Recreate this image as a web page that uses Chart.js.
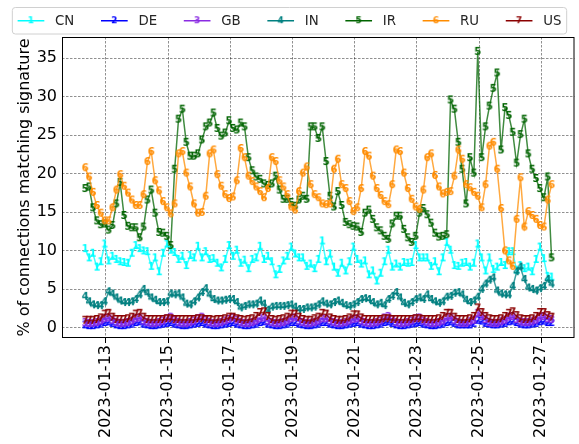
<!DOCTYPE html>
<html>
<head>
<meta charset="utf-8">
<script src="https://cdn.jsdelivr.net/npm/chart.js@4/dist/chart.umd.min.js"></script>
<style>
  html, body { margin: 0; padding: 0; background: #fff; }
  #wrap { width: 579px; height: 444px; }
</style>
</head>
<body>
<div id="wrap"><canvas id="chart" width="579" height="444"></canvas></div>
<script>
// samples every 3 hours, starting 2023-01-12 08:00 (x = day of January)
const startDay = 12.333;
const stepDay = 0.125;
const tickDays = [13, 15, 17, 19, 21, 23, 25, 27];
const yTicks = [0, 5, 10, 15, 20, 25, 30, 35];

const countries = ['CN', 'DE', 'GB', 'IN', 'IR', 'RU', 'US'];
const colors = ['#00ffff', '#0000ff', '#8a2be2', '#008080', '#006400', '#ff8c00', '#8b0000'];

const cn = [
  10.2, 9.0, 9.6, 7.8, 8.5, 10.8, 8.6, 9.2,
  8.8, 8.5, 8.4, 8.3, 9.6, 10.6, 10.2, 9.9,
  9.8, 7.9, 9.0, 7.2, 9.6, 10.8, 10.0, 9.7,
  8.8, 9.2, 8.0, 9.3, 9.0, 10.5, 9.0, 9.8,
  8.8, 8.9, 8.3, 7.7, 8.8, 10.6, 9.2, 10.0,
  8.3, 8.7, 7.6, 8.8, 9.0, 10.5, 8.8, 9.2,
  8.5, 6.8, 7.5, 8.6, 9.2, 10.4, 9.5, 9.0,
  9.0, 7.9, 8.2, 7.6, 8.8, 11.2, 8.5, 9.5,
  7.8, 7.0, 8.3, 7.3, 8.5, 10.4, 8.8, 8.2,
  8.6, 6.8, 7.3, 6.0, 7.0, 8.5, 10.0, 7.8,
  8.2, 7.8, 8.4, 8.3, 8.4, 10.6, 9.0, 9.0,
  9.0, 7.9, 8.5, 7.2, 9.0, 11.0, 10.0, 8.0,
  7.9, 8.3, 8.4, 7.8, 8.3, 10.8, 9.0, 7.3,
  9.0, 7.5, 7.8, 8.4, 8.0, 9.8, 9.8, 7.4,
  8.0, 7.6, 7.8, 7.2, 8.8, 10.4, 8.9, 6.6,
  6.5
];
const de = [
  0.3, 0.2, 0.2, 0.3, 0.4, 0.6, 0.7, 0.5,
  0.3, 0.2, 0.2, 0.3, 0.4, 0.6, 0.7, 0.4,
  0.3, 0.2, 0.2, 0.3, 0.4, 0.5, 0.6, 0.4,
  0.3, 0.2, 0.2, 0.3, 0.4, 0.5, 0.6, 0.4,
  0.3, 0.2, 0.2, 0.3, 0.4, 0.5, 0.6, 0.4,
  0.3, 0.2, 0.2, 0.3, 0.4, 0.6, 0.7, 0.4,
  0.3, 0.2, 0.2, 0.3, 0.4, 0.6, 0.6, 0.4,
  0.3, 0.2, 0.2, 0.3, 0.4, 0.6, 0.6, 0.4,
  0.3, 0.2, 0.2, 0.3, 0.4, 0.5, 0.6, 0.4,
  0.3, 0.2, 0.2, 0.3, 0.4, 0.6, 0.7, 0.5,
  0.3, 0.2, 0.2, 0.3, 0.4, 0.5, 0.6, 0.4,
  0.3, 0.2, 0.2, 0.3, 0.4, 0.6, 0.7, 0.5,
  0.3, 0.3, 0.3, 0.3, 0.5, 0.9, 0.8, 0.5,
  0.4, 0.3, 0.3, 0.4, 0.5, 0.7, 0.8, 0.6,
  0.4, 0.3, 0.3, 0.4, 0.5, 0.7, 0.8, 0.6,
  0.6
];
const gb = [
  0.6, 0.5, 0.5, 0.6, 0.8, 1.1, 1.2, 0.9,
  0.6, 0.5, 0.5, 0.6, 0.8, 1.1, 1.2, 0.8,
  0.6, 0.5, 0.5, 0.6, 0.8, 1.1, 1.3, 0.9,
  0.6, 0.5, 0.5, 0.6, 0.8, 1.1, 1.3, 0.9,
  0.6, 0.5, 0.5, 0.6, 0.8, 1.0, 1.2, 0.9,
  0.6, 0.5, 0.5, 0.6, 0.8, 1.1, 1.2, 0.8,
  0.6, 0.5, 0.5, 0.6, 0.8, 1.1, 1.2, 0.8,
  0.6, 0.5, 0.5, 0.6, 0.8, 1.1, 1.1, 0.8,
  0.6, 0.5, 0.5, 0.6, 0.8, 1.0, 1.1, 0.8,
  0.6, 0.5, 0.5, 0.6, 0.8, 1.2, 1.4, 1.0,
  0.6, 0.5, 0.5, 0.6, 0.8, 1.1, 1.2, 0.8,
  0.6, 0.5, 0.5, 0.6, 0.8, 1.2, 1.3, 0.9,
  0.6, 0.5, 0.5, 0.7, 0.9, 1.8, 1.4, 1.0,
  0.6, 0.5, 0.5, 0.7, 0.9, 1.3, 1.4, 1.0,
  0.7, 0.6, 0.6, 0.7, 0.9, 1.3, 1.4, 1.1,
  1.0
];
const inn = [
  4.0, 3.3, 2.9, 2.8, 2.8, 3.3, 4.6, 4.3,
  3.8, 3.4, 3.2, 3.2, 3.3, 3.6, 4.2, 4.9,
  4.4, 3.8, 3.5, 3.2, 3.2, 3.3, 4.3, 4.2,
  4.3, 3.8, 3.0, 2.9, 3.3, 3.8, 4.5, 5.0,
  4.2, 3.6, 3.4, 3.4, 3.5, 3.6, 3.6, 3.2,
  2.5, 2.7, 2.9, 2.9, 3.0, 3.4, 3.0, 2.2,
  2.6, 2.7, 2.7, 2.7, 2.8, 2.9, 2.6, 2.3,
  2.3, 2.5, 2.5, 2.6, 2.9, 3.3, 3.0, 2.9,
  3.2, 3.4, 3.1, 2.8, 2.7, 2.9, 3.2, 3.6,
  3.7, 3.6, 3.2, 2.9, 3.1, 2.8, 3.6, 4.0,
  4.5, 3.8, 3.1, 2.9, 3.2, 3.6, 3.8, 3.6,
  4.2, 3.6, 3.3, 3.1, 3.3, 3.9, 4.0, 4.4,
  4.5, 4.2, 3.5, 3.2, 3.4, 3.9, 4.9, 5.6,
  6.1, 6.4, 4.7, 4.3, 4.2, 4.2, 5.3, 7.2,
  7.8, 6.2, 5.1, 4.9, 4.7, 5.0, 5.3, 6.2,
  5.6
];
const ir = [
  18.0, 18.2, 15.5, 13.8, 13.3, 13.4, 12.6, 13.2,
  16.0, 18.8, 14.5, 13.1, 12.9, 12.9, 11.6, 13.0,
  16.5, 17.8, 14.8, 12.3, 12.2, 11.8, 10.6, 20.5,
  27.0, 28.3, 24.0, 22.2, 22.2, 22.5, 24.3, 26.0,
  26.5, 27.8, 25.8, 24.8, 25.2, 26.8, 25.8, 25.6,
  26.5, 26.0, 22.0, 20.3, 19.5, 19.2, 18.6, 18.4,
  18.6, 19.6, 17.8, 16.6, 16.6, 16.2, 15.7, 16.5,
  17.0, 16.6, 26.0, 26.0, 24.5, 26.0, 21.5, 17.0,
  15.6, 17.6, 15.8, 13.6, 13.3, 13.1, 13.0, 12.3,
  14.8, 15.2, 14.0, 12.9, 12.5, 11.8, 11.4, 13.4,
  14.4, 14.4, 12.7, 11.6, 11.0, 11.8, 14.8, 15.4,
  14.6, 13.5, 12.2, 11.7, 11.8, 12.0, 29.5, 28.3,
  24.0, 20.5, 16.0, 22.0, 20.0, 35.8, 22.0, 26.0,
  28.7, 31.0, 33.0, 23.0, 28.5, 27.5, 25.3, 21.3,
  25.0, 27.0, 22.5, 20.5, 19.3, 18.0, 16.8, 19.5,
  9.0
];
const ru = [
  20.7, 19.5, 17.5, 15.8, 14.8, 13.8, 13.8, 15.5,
  17.8, 19.8, 18.3, 17.4, 16.5, 15.8, 15.8, 17.2,
  21.5, 22.8, 19.0, 17.7, 16.3, 15.5, 14.7, 16.0,
  22.5, 22.8, 20.0, 18.2, 16.0, 14.8, 14.9, 17.0,
  22.5, 23.0, 19.8, 18.3, 17.2, 16.7, 16.9, 19.0,
  23.2, 22.0, 19.6, 18.9, 18.2, 17.6, 16.8, 18.0,
  22.0, 21.5, 19.0, 18.2, 17.2, 15.6, 15.2, 17.6,
  20.0, 20.8, 18.5, 17.2, 16.8, 16.0, 15.9, 16.0,
  20.5, 21.8, 18.5, 18.0, 16.3, 15.0, 15.5, 18.0,
  22.8, 22.2, 19.6, 18.0, 17.1, 16.3, 15.9, 18.5,
  23.0, 22.8, 20.0, 18.0, 16.6, 15.6, 15.3, 17.8,
  22.0, 22.5, 19.7, 18.2, 17.3, 17.5, 17.6, 19.6,
  23.0, 21.8, 18.5, 18.1, 17.5, 17.0, 15.5, 18.5,
  23.5, 24.0, 20.5, 15.4, 9.9, 8.6, 7.9, 14.0,
  19.4, 13.0, 15.0, 14.5, 14.0, 13.2, 13.0, 16.5,
  18.5
];
const us = [
  0.9, 0.9, 0.9, 1.0, 1.2, 1.7, 1.8, 1.3,
  1.0, 1.0, 1.0, 1.1, 1.3, 1.7, 1.8, 1.3,
  1.0, 1.0, 1.0, 1.0, 1.0, 1.1, 1.1, 1.0,
  1.0, 1.0, 1.0, 1.0, 1.0, 1.1, 1.1, 1.0,
  1.0, 0.9, 1.0, 1.0, 1.1, 1.3, 1.3, 1.1,
  1.0, 0.9, 1.0, 1.1, 1.4, 1.9, 2.0, 1.4,
  1.0, 0.9, 1.0, 1.1, 1.3, 1.7, 1.7, 1.3,
  1.0, 0.9, 0.9, 1.1, 1.3, 1.8, 1.7, 1.2,
  1.0, 0.9, 0.9, 1.0, 1.2, 1.6, 1.6, 1.2,
  1.0, 1.0, 1.0, 1.0, 1.0, 1.1, 1.1, 1.0,
  1.0, 1.0, 1.0, 1.0, 1.0, 1.1, 1.1, 1.0,
  1.0, 1.0, 1.0, 1.1, 1.4, 1.8, 1.8, 1.3,
  1.0, 1.0, 1.0, 1.1, 1.4, 2.5, 1.9, 1.4,
  1.1, 1.0, 1.0, 1.1, 1.4, 1.8, 2.0, 1.5,
  1.1, 1.0, 1.0, 1.1, 1.4, 1.9, 1.9, 1.5,
  1.3
];

const series = [cn, de, gb, inn, ir, ru, us];
const times = cn.map((_, i) => startDay + i * stepDay);

// digit markers like matplotlib's "$1$".."$7$"
function makeMarker(ch, color, size) {
  const c = document.createElement('canvas');
  c.width = size; c.height = size + 2;
  const g = c.getContext('2d');
  g.fillStyle = color;
  g.font = 'bold ' + size + 'px "DejaVu Sans"';
  g.textAlign = 'center';
  g.textBaseline = 'middle';
  g.fillText(ch, size / 2, size / 2 + 1.5);
  return c;
}
const markers = countries.map((c, i) => makeMarker(String(i + 1), colors[i], 10));
const legendMarkers = countries.map((c, i) => makeMarker(String(i + 1), colors[i], 9));

function withAlpha(hex, a) {
  const n = parseInt(hex.slice(1), 16);
  return `rgba(${(n >> 16) & 255},${(n >> 8) & 255},${n & 255},${a})`;
}

const frame = {
  id: 'frame',
  afterDatasetsDraw(chart) {
    const {ctx, chartArea: a} = chart;
    ctx.save();
    ctx.strokeStyle = '#000';
    ctx.lineWidth = 1;
    ctx.strokeRect(a.left + 0.5, a.top + 0.5, a.right - a.left - 1, a.bottom - a.top - 1);
    ctx.restore();
  }
};

// matplotlib style legend in a framed box across the top
const topLegend = {
  id: 'topLegend',
  afterDraw(chart) {
    const ctx = chart.ctx;
    const fs = 13.33, handle = 26.7, gap = 10.7, colSpace = 26.7, pad = 5.3;
    ctx.save();
    ctx.font = fs + 'px "DejaVu Sans"';
    const widths = countries.map(c => ctx.measureText(c).width);
    const total = widths.reduce((s, w) => s + handle + gap + w, 0) + colSpace * (countries.length - 1);
    let x = (chart.width - total) / 2;
    const top = 7.5, h = 26.5, cy = top + h / 2;
    const bx = x - pad, bw = total + 2 * pad, r = 3;
    ctx.beginPath();
    ctx.moveTo(bx + r, top);
    ctx.lineTo(bx + bw - r, top);
    ctx.arcTo(bx + bw, top, bx + bw, top + r, r);
    ctx.lineTo(bx + bw, top + h - r);
    ctx.arcTo(bx + bw, top + h, bx + bw - r, top + h, r);
    ctx.lineTo(bx + r, top + h);
    ctx.arcTo(bx, top + h, bx, top + h - r, r);
    ctx.lineTo(bx, top + r);
    ctx.arcTo(bx, top, bx + r, top, r);
    ctx.closePath();
    ctx.fillStyle = 'rgba(255,255,255,0.8)';
    ctx.fill();
    ctx.strokeStyle = '#d0d0d0';
    ctx.lineWidth = 1;
    ctx.stroke();
    countries.forEach((name, i) => {
      ctx.strokeStyle = colors[i];
      ctx.lineWidth = 1.5;
      ctx.beginPath();
      ctx.moveTo(x, cy);
      ctx.lineTo(x + handle, cy);
      ctx.stroke();
      const m = legendMarkers[i];
      ctx.drawImage(m, x + handle / 2 - m.width / 2, cy - m.height / 2);
      ctx.fillStyle = '#262626';
      ctx.textBaseline = 'middle';
      ctx.textAlign = 'left';
      ctx.fillText(name, x + handle + gap, cy + 1);
      x += handle + gap + widths[i] + colSpace;
    });
    ctx.restore();
  }
};

Chart.defaults.font.family = '"DejaVu Sans", sans-serif';

new Chart(document.getElementById('chart'), {
  type: 'line',
  data: {
    datasets: countries.map((name, i) => ({
      label: name,
      data: series[i].map((v, k) => ({x: times[k], y: v})),
      borderColor: withAlpha(colors[i], 0.75),
      borderWidth: 1.5,
      pointStyle: markers[i],
      pointRadius: 3,
      pointHoverRadius: 3,
      fill: false,
      tension: 0,
      order: countries.length - 1 - i
    }))
  },
  options: {
    responsive: false,
    animation: false,
    devicePixelRatio: 1,
    layout: { padding: { top: 37, right: 4, left: 0, bottom: 0 } },
    plugins: {
      legend: { display: false },
      tooltip: { enabled: false }
    },
    scales: {
      x: {
        type: 'linear',
        min: 11.586,
        max: 28.07,
        afterBuildTicks: s => { s.ticks = tickDays.map(v => ({value: v})); },
        afterFit: s => { s.height = 106; },
        ticks: {
          autoSkip: false,
          minRotation: 90,
          maxRotation: 90,
          padding: 2,
          color: '#000',
          font: { size: 16 },
          callback: v => '2023-01-' + String(v).padStart(2, '0')
        },
        grid: {
          color: 'rgba(0,0,0,0.55)',
          lineWidth: 0.8,
          drawTicks: true,
          tickLength: 5,
          tickColor: '#000',
          tickWidth: 1,
          tickBorderDash: []
        },
        border: { display: false, dash: [2.5, 1.5] }
      },
      y: {
        min: -1.34,
        max: 37.73,
        afterBuildTicks: s => { s.ticks = yTicks.map(v => ({value: v})); },
        afterFit: s => { s.width = 62; },
        ticks: { padding: 5, color: '#000', font: { size: 16 } },
        grid: { color: 'rgba(0,0,0,0.55)', lineWidth: 0.8, drawTicks: false },
        border: { display: false, dash: [2.5, 1.5] },
        title: {
          display: true,
          text: '% of connections matching signature',
          color: '#000',
          font: { size: 16 },
          padding: { top: 15, bottom: 0 }
        }
      }
    }
  },
  plugins: [frame, topLegend]
});
</script>
</body>
</html>
